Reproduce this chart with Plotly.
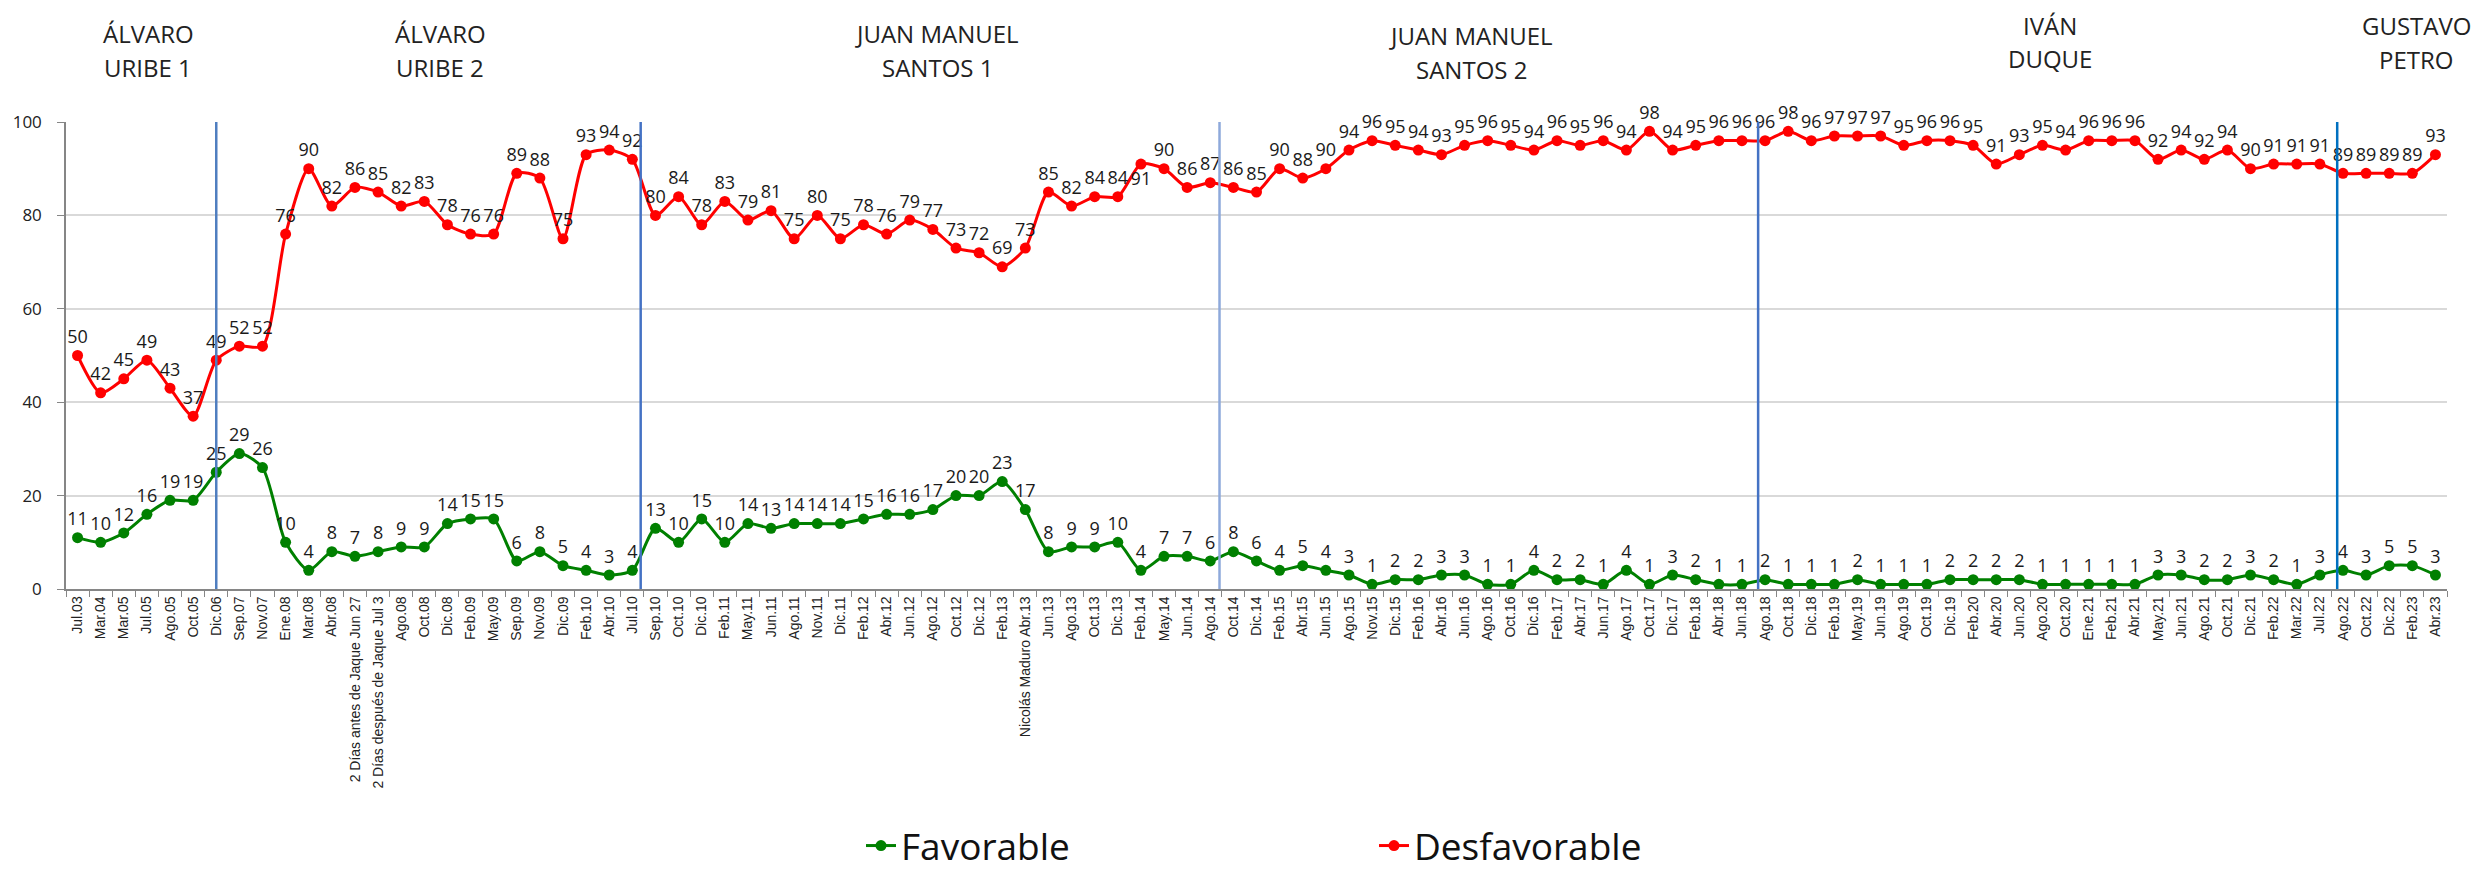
import plotly.graph_objects as go

categories = [
    "Jul.03", "Mar.04", "Mar.05", "Jul.05", "Ago.05", "Oct.05", "Dic.06", "Sep.07", "Nov.07", "Ene.08",
    "Mar.08", "Abr.08", "2 Días antes de Jaque Jun 27", "2 Días después de Jaque Jul 3", "Ago.08",
    "Oct.08", "Dic.08", "Feb.09", "May.09", "Sep.09", "Nov.09", "Dic.09", "Feb.10", "Abr.10", "Jul.10",
    "Sep.10", "Oct.10", "Dic.10", "Feb.11", "May.11", "Jun.11", "Ago.11", "Nov.11", "Dic.11", "Feb.12",
    "Abr.12", "Jun.12", "Ago.12", "Oct.12", "Dic.12", "Feb.13", "Nicolás Maduro Abr.13", "Jun.13",
    "Ago.13", "Oct.13", "Dic.13", "Feb.14", "May.14", "Jun.14", "Ago.14", "Oct.14", "Dic.14", "Feb.15",
    "Abr.15", "Jun.15", "Ago.15", "Nov.15", "Dic.15", "Feb.16", "Abr.16", "Jun.16", "Ago.16", "Oct.16",
    "Dic.16", "Feb.17", "Abr.17", "Jun.17", "Ago.17", "Oct.17", "Dic.17", "Feb.18", "Abr.18", "Jun.18",
    "Ago.18", "Oct.18", "Dic.18", "Feb.19", "May.19", "Jun.19", "Ago.19", "Oct.19", "Dic.19", "Feb.20",
    "Abr.20", "Jun.20", "Ago.20", "Oct.20", "Ene.21", "Feb.21", "Abr.21", "May.21", "Jun.21", "Ago.21",
    "Oct.21", "Dic.21", "Feb.22", "Mar.22", "Jul.22", "Ago.22", "Oct.22", "Dic.22", "Feb.23", "Abr.23",
]

favorable = [
    11, 10, 12, 16, 19, 19, 25, 29, 26, 10,
    4, 8, 7, 8, 9,
    9, 14, 15, 15, 6, 8, 5, 4, 3, 4,
    13, 10, 15, 10, 14, 13, 14, 14, 14, 15,
    16, 16, 17, 20, 20, 23, 17, 8,
    9, 9, 10, 4, 7, 7, 6, 8, 6, 4,
    5, 4, 3, 1, 2, 2, 3, 3, 1, 1,
    4, 2, 2, 1, 4, 1, 3, 2, 1, 1,
    2, 1, 1, 1, 2, 1, 1, 1, 2, 2,
    2, 2, 1, 1, 1, 1, 1, 3, 3, 2,
    2, 3, 2, 1, 3, 4, 3, 5, 5, 3,
]

desfavorable = [
    50, 42, 45, 49, 43, 37, 49, 52, 52, 76,
    90, 82, 86, 85, 82,
    83, 78, 76, 76, 89, 88, 75, 93, 94, 92,
    80, 84, 78, 83, 79, 81, 75, 80, 75, 78,
    76, 79, 77, 73, 72, 69, 73, 85,
    82, 84, 84, 91, 90, 86, 87, 86, 85, 90,
    88, 90, 94, 96, 95, 94, 93, 95, 96, 95,
    94, 96, 95, 96, 94, 98, 94, 95, 96, 96,
    96, 98, 96, 97, 97, 97, 95, 96, 96, 95,
    91, 93, 95, 94, 96, 96, 96, 92, 94, 92,
    94, 90, 91, 91, 91, 89, 89, 89, 89, 93,
]

# Presidential periods: header lines and where each section divider sits (category index units)
period_line1 = ["ÁLVARO", "ÁLVARO", "JUAN MANUEL", "JUAN MANUEL", "IVÁN", "GUSTAVO"]
period_line2 = ["URIBE 1", "URIBE 2", "SANTOS 1", "SANTOS 2", "DUQUE", "PETRO"]
period_label_x = [148, 440, 937, 1471, 2050, 2416]       # screen px centres of headers
period_line1_y = [34, 34, 34, 36, 25, 25]                 # screen px centres of first line
period_line2_y = [67, 67, 67, 69, 58, 59]                 # screen px centres of second line
dividers = [6.0, 24.36, 49.4, 72.7, 97.75]
divider_colors = ["#4F7EC0", "#4472C4", "#8EA9DB", "#4472C4", "#0070C0"]

# The page body adds an 8 px margin; size the figure so the page fits the window exactly.
OFF = 8
SCREEN_W, SCREEN_H = 2483, 879
W, H = SCREEN_W - 2 * OFF, SCREEN_H - 2 * OFF
PLOT_L, PLOT_R, PLOT_T, PLOT_B = 66, 2447, 122, 589      # screen px of plot area
PW, PH = PLOT_R - PLOT_L, PLOT_B - PLOT_T
L, T = PLOT_L - OFF, PLOT_T - OFF
R, B = W - (PLOT_R - OFF), H - (PLOT_B - OFF)


def px_x(sx):
    return (sx - PLOT_L) / PW


def px_y(sy):
    return (PLOT_B - sy) / PH


red_pos = ["top center"] * len(desfavorable)
red_pos[categories.index("Feb.14")] = "bottom center"

fig = go.Figure()
fig.add_trace(go.Scatter(
    x=categories, y=favorable, name="Favorable", mode="lines+markers+text",
    line=dict(color="#008000", width=3, shape="spline", smoothing=0.7),
    marker=dict(color="#008000", size=11),
    text=[str(v) for v in favorable], textposition="top center",
    textfont=dict(family="Open Sans", size=18, color="#1a1a1a"),
    cliponaxis=False,
))
fig.add_trace(go.Scatter(
    x=categories, y=desfavorable, name="Desfavorable", mode="lines+markers+text",
    line=dict(color="#FF0000", width=3, shape="spline", smoothing=0.7),
    marker=dict(color="#FF0000", size=11),
    text=[str(v) for v in desfavorable], textposition=red_pos,
    textfont=dict(family="Open Sans", size=18, color="#1a1a1a"),
    cliponaxis=False,
))

for pos, col in zip(dividers, divider_colors):
    fig.add_shape(type="line", xref="x", yref="y", x0=pos, x1=pos, y0=0, y1=100,
                  line=dict(color=col, width=2.5), layer="above")

for t1, t2, sx, y1, y2 in zip(period_line1, period_line2, period_label_x,
                              period_line1_y, period_line2_y):
    for txt, sy in ((t1, y1), (t2, y2)):
        fig.add_annotation(text=txt, xref="paper", yref="paper",
                           x=px_x(sx), y=px_y(sy),
                           xanchor="center", yanchor="middle", showarrow=False,
                           font=dict(family="Open Sans", size=24, color="#222222"))

fig.update_layout(
    width=W, height=H,
    margin=dict(l=L, r=R, t=T, b=B, autoexpand=False),
    paper_bgcolor="white", plot_bgcolor="white",
    showlegend=True,
    legend=dict(orientation="h",
                xref="container", x=(861 - OFF) / W, xanchor="left",
                yref="container", y=(H - (846 - OFF)) / H, yanchor="middle",
                font=dict(family="Open Sans", size=37, color="#111111"),
                entrywidth=468, entrywidthmode="pixels"),
    xaxis=dict(
        type="category", range=[-0.5, len(categories) - 0.5], automargin=False,
        showline=True, linecolor="#868686", linewidth=1.5,
        ticks="outside", tickson="boundaries", ticklen=6, tickcolor="#868686",
        tickangle=-90, showgrid=False,
        tickfont=dict(family="Liberation Sans", size=14, color="#222222"),
    ),
    yaxis=dict(
        range=[0, 100], dtick=20, automargin=False,
        showline=True, linecolor="#868686", linewidth=1.5,
        ticks="outside", ticklen=7, tickcolor="#868686",
        gridcolor="#D9D9D9", gridwidth=1.5, zeroline=False,
        ticklabelstandoff=12,
        tickfont=dict(family="Open Sans", size=17, color="#222222"),
    ),
)

fig.write_html("out.html")
